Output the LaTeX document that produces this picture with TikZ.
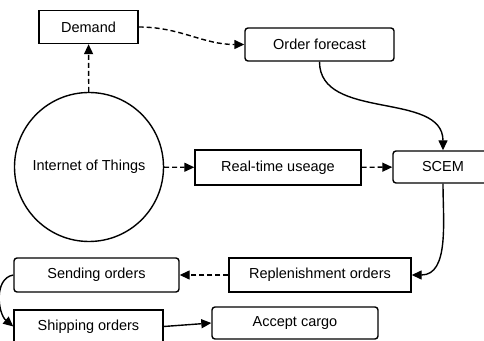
\documentclass[tikz,border=0pt]{standalone}
\usepackage{fontspec}
\setmainfont{Liberation Sans}
\usetikzlibrary{arrows.meta}

\begin{document}
\begin{tikzpicture}[x=1pt, y=1pt, line width=1.4pt,
        font=\fontsize{14.5}{17}\selectfont,
        main/.style = {draw, inner sep=0pt, minimum height=33pt},
        rnd/.style = {main, rounded corners=3pt},
        circ/.style = {draw, circle, inner sep=0pt, minimum size=149pt},
        arr/.style = {-{Triangle[length=10pt,width=9pt]}},
        dsh/.style = {arr, dash pattern=on 5pt off 3pt}]
        \useasboundingbox (0,0) rectangle (484,340);
        \node[main, minimum width=99pt] (1) at (88.5,313) {Demand};
        \node[rnd, minimum width=149pt] (2) at (319.5,295.5) {Order forecast};
        \node[circ] (3) at (89,173) {Internet of Things};
        \node[main, minimum width=166pt, minimum height=35pt] (4) at (278,172.5) {Real-time useage};
        \node[rnd, minimum width=100pt, minimum height=32pt] (5) at (443,173) {SCEM};
        \node[main, minimum width=182pt, minimum height=34pt] (6) at (320,65) {Replenishment orders};
        \node[rnd, minimum width=165pt, minimum height=34pt] (7) at (96.5,65) {Sending orders};
        \node[main, minimum width=149pt] (8) at (88.5,13.5) {Shipping orders};
        \node[rnd, minimum width=166pt, minimum height=32pt] (9) at (295,17) {Accept cargo};
        \draw[dsh] (3) to (1);
        \draw[dsh] (1.east) to[out=0, in=180] (2.west);
        \draw[arr] (2.south) to[out=-90, in=90] (5.north);
        \draw[dsh] (3) to (4);
        \draw[dsh] (4) to (5);
        \draw[arr] (5.south) to[out=-90, in=0] (6.east);
        \draw[dsh] (6) to (7);
        \draw[arr] (7.west) to[out=190, in=140] (8.west);
        \draw[arr] (8.east) to (9.west);
\end{tikzpicture}
\end{document}
